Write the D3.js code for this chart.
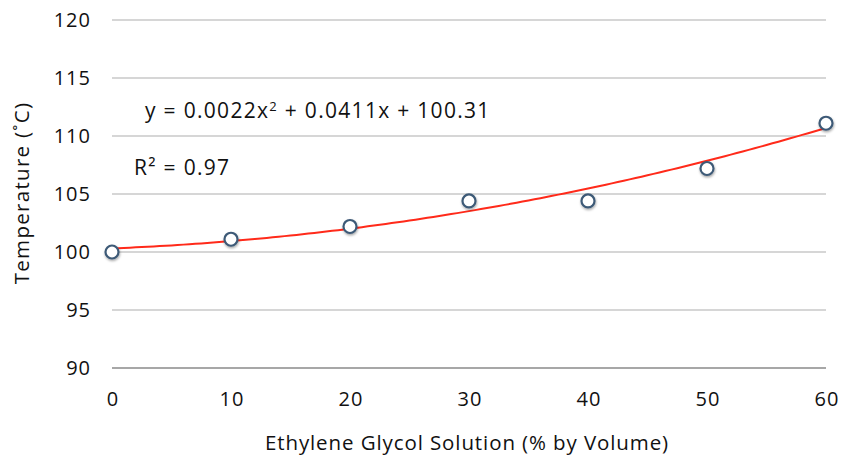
<!DOCTYPE html>
<html>
<head>
<meta charset="utf-8">
<script src="https://cdn.jsdelivr.net/npm/d3@7"></script>
<style>
  html, body { margin: 0; padding: 0; background: #fff; }
  svg text { font-family: "Open Sans", "Lato", sans-serif; fill: #111; }
</style>
</head>
<body>
<svg id="chart" width="842" height="458"></svg>
<script>
// Boiling temperature of ethylene glycol solutions
const concentration = [0, 10, 20, 30, 40, 50, 60];
const temperature = [100.0, 101.1, 102.2, 104.4, 104.4, 107.2, 111.1];
const xTicks = [0, 10, 20, 30, 40, 50, 60];
const yTicks = [90, 95, 100, 105, 110, 115, 120];
// Quadratic trendline coefficients: a*x^2 + b*x + c
const fitCoef = [0.0022, 0.0411, 100.31];
const rSquared = 0.97;

const svg = d3.select("#chart");
const margin = { left: 112, right: 16, top: 20, bottom: 90 };
const W = 842, H = 458;

const x = d3.scaleLinear().domain([0, 60]).range([margin.left, W - margin.right]);
const y = d3.scaleLinear().domain([90, 120]).range([H - margin.bottom, margin.top]);

// Horizontal gridlines
svg.append("g")
  .selectAll("line")
  .data(yTicks.filter(t => t !== 90))
  .join("line")
  .attr("x1", x(0)).attr("x2", x(60))
  .attr("y1", d => y(d)).attr("y2", d => y(d))
  .attr("stroke", "#c8c8c8").attr("stroke-width", 1.5);

// Baseline axis
svg.append("line")
  .attr("x1", x(0)).attr("x2", x(60))
  .attr("y1", y(90)).attr("y2", y(90))
  .attr("stroke", "#8a8a8a").attr("stroke-width", 1.5);

// Y tick labels
svg.append("g")
  .selectAll("text")
  .data(yTicks)
  .join("text")
  .attr("x", 91)
  .attr("y", d => y(d))
  .attr("dy", "0.36em")
  .attr("text-anchor", "end")
  .attr("font-size", 20)
  .attr("letter-spacing", 1)
  .text(d => d);

// X tick labels
svg.append("g")
  .selectAll("text")
  .data(xTicks)
  .join("text")
  .attr("x", d => x(d) + 1)
  .attr("y", 406)
  .attr("text-anchor", "middle")
  .attr("font-size", 20)
  .attr("letter-spacing", 1)
  .text(d => d);

// Axis titles
svg.append("text")
  .attr("x", 467).attr("y", 450)
  .attr("text-anchor", "middle")
  .attr("font-size", 20.5)
  .attr("letter-spacing", 0.9)
  .text("Ethylene Glycol Solution (% by Volume)");

svg.append("text")
  .attr("transform", "translate(29,193) rotate(-90)")
  .attr("text-anchor", "middle")
  .attr("font-size", 20.5)
  .attr("letter-spacing", 1.3)
  .text("Temperature (˚C)");

// Trendline
const fit = v => fitCoef[0] * v * v + fitCoef[1] * v + fitCoef[2];
const fitPts = d3.range(0, 60.01, 0.5).map(v => [v, fit(v)]);
svg.append("path")
  .datum(fitPts)
  .attr("fill", "none")
  .attr("stroke", "#ff2a1a")
  .attr("stroke-width", 2)
  .attr("d", d3.line().x(d => x(d[0])).y(d => y(d[1])));

// Data markers with a soft drop shadow
const defs = svg.append("defs");
const f = defs.append("filter").attr("id", "shadow")
  .attr("x", "-50%").attr("y", "-50%").attr("width", "200%").attr("height", "200%");
f.append("feDropShadow").attr("dx", 0.5).attr("dy", 1.5).attr("stdDeviation", 1)
  .attr("flood-color", "#000").attr("flood-opacity", 0.35);

svg.append("g")
  .selectAll("circle")
  .data(concentration.map((c, i) => [c, temperature[i]]))
  .join("circle")
  .attr("cx", d => x(d[0]))
  .attr("cy", d => y(d[1]))
  .attr("r", 6.5)
  .attr("fill", "#fff")
  .attr("stroke", "#3e5a77")
  .attr("stroke-width", 2.2)
  .attr("filter", "url(#shadow)");

// Equation and R² annotation
const eq = svg.append("text")
  .attr("x", 145).attr("y", 118)
  .attr("font-size", 21)
  .attr("letter-spacing", 1.3);
eq.append("tspan").text(`y = ${fitCoef[0]}x`);
eq.append("tspan").text("2").attr("font-size", 13).attr("dy", -7);
eq.append("tspan").text(` + ${fitCoef[1]}x + ${fitCoef[2]}`).attr("dy", 7);

svg.append("text")
  .attr("x", 134).attr("y", 175)
  .attr("font-size", 21)
  .attr("letter-spacing", 1.3)
  .text(`R² = ${rSquared}`);
</script>
</body>
</html>
